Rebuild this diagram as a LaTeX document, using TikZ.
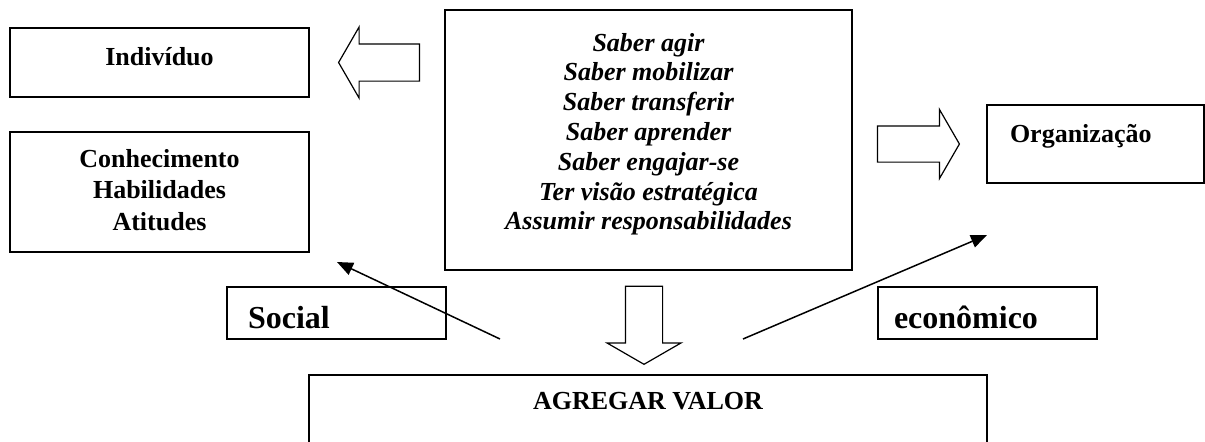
\documentclass[tikz,border=0pt]{standalone}
\usepackage{fontspec}
\setmainfont{Liberation Serif}
\usetikzlibrary{shapes.arrows,arrows.meta}

\begin{document}
\begin{tikzpicture}[x=0.5pt,y=-0.5pt]
        \tikzset{box/.style={draw,line width=0.9pt,inner sep=0pt,
                font=\fontsize{13pt}{15.75pt}\selectfont\bfseries},
            tag/.style={box,minimum width=109.5pt,minimum height=26pt,align=left,
                text height=15pt,text depth=0pt,font=\fontsize{16pt}{19pt}\selectfont\bfseries},
            bigarrow/.style={single arrow,draw,line width=0.6pt,inner xsep=0pt,inner ysep=9pt,
                single arrow head extend=8.5pt,single arrow tip angle=120,anchor=tip},
            link/.style={line width=0.75pt,-{Triangle[length=8pt,width=6.5pt]}}}
        \useasboundingbox (0,0) rectangle (1205,441);
        % boxes
        \node[box,minimum width=149.5pt,minimum height=34.5pt,text height=9pt,text depth=6pt]
            (indiv) at (159.5,62.5) {Indivíduo};
        \node[box,align=center,minimum width=149.5pt,minimum height=60pt,text depth=2.5pt]
            (conhec) at (159.5,192) {Conhecimento\\Habilidades\\Atitudes};
        \node[box,align=center,minimum width=203.5pt,minimum height=130pt,text depth=8.5pt,
            font=\fontsize{13pt}{14.9pt}\selectfont\bfseries\itshape] (saber) at (648.5,140)
            {Saber agir\\Saber mobilizar\\Saber transferir\\Saber aprender\\Saber engajar-se\\
             Ter visão estratégica\\Assumir responsabilidades};
        \node[box,minimum width=108.5pt,minimum height=39pt,text width=85.5pt,align=left,
            text height=9pt,text depth=11pt] (org) at (1095.5,144) {Organização};
        \node[tag,text width=88.5pt] (social) at (336.5,313) {Social};
        \node[tag,text width=93.5pt] (econ) at (987.5,313) {econômico};
        \node[box,anchor=north,minimum width=339pt,minimum height=40pt,text height=9pt,text depth=14pt]
            (valor) at (648,374) {AGREGAR VALOR};
        % block arrows
        \node[bigarrow,shape border rotate=180,minimum height=40.5pt] (toindiv) at ([xshift=14pt]indiv.east) {};
        \node[bigarrow,minimum height=41pt,inner ysep=8.75pt,single arrow head extend=8.25pt]
            (toorg) at ([xshift=-13pt]org.west) {};
        \node[bigarrow,shape border rotate=270,minimum height=39pt,inner xsep=9pt,inner ysep=0pt,
            single arrow head extend=9.25pt] (tovalor) at ([xshift=-2pt,yshift=4.5pt]valor.north) {};
        % thin arrows
        \coordinate (socfrom) at (500,339);
        \coordinate (socto) at (337,262);
        \coordinate (ecofrom) at (743,339);
        \coordinate (ecoto) at (987,235);
        \draw[link] (socfrom) -- (socto);
        \draw[link] (ecofrom) -- (ecoto);
\end{tikzpicture}
\end{document}
